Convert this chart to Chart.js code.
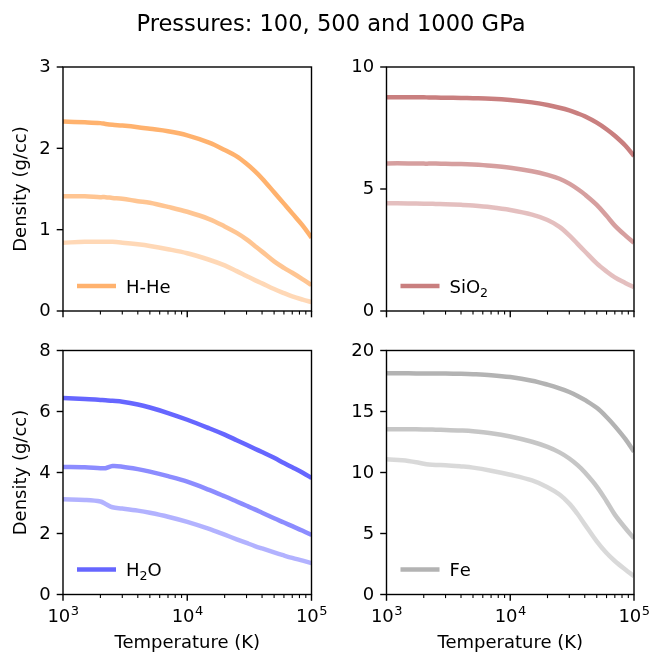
<!DOCTYPE html>
<html>
<head>
<meta charset="utf-8">
<script src="https://cdn.jsdelivr.net/npm/chart.js@4.4.1/dist/chart.umd.min.js"></script>
<style>
    body { margin: 0; background: #fff; }
    #wrap { position: relative; width: 651px; height: 652px; }
    #wrap canvas { position: absolute; left: 0; top: 0; }
</style>
</head>
<body>
<div id="wrap">
    <canvas id="c1" width="651" height="652"></canvas>
    <canvas id="c2" width="651" height="652"></canvas>
    <canvas id="c3" width="651" height="652"></canvas>
    <canvas id="c4" width="651" height="652"></canvas>
</div>
<script>
// Temperatures (K)
const temps = [1000, 1500, 2000, 2200, 2500, 3000, 4000, 5000, 7000, 10000, 15000, 20000, 25000, 30000, 35000, 40000, 50000, 60000, 70000, 85000, 100000];

// Density (g/cc) at 1000, 500, 100 GPa
const hheHigh = [2.33, 2.32, 2.31, 2.30, 2.29, 2.28, 2.26, 2.24, 2.21, 2.16, 2.07, 1.98, 1.90, 1.81, 1.72, 1.63, 1.46, 1.32, 1.20, 1.05, 0.90];
const hheMid  = [1.41, 1.41, 1.40, 1.40, 1.39, 1.38, 1.35, 1.33, 1.28, 1.22, 1.13, 1.04, 0.96, 0.88, 0.80, 0.73, 0.61, 0.53, 0.47, 0.39, 0.32];
const hheLow  = [0.84, 0.85, 0.85, 0.85, 0.85, 0.84, 0.82, 0.80, 0.76, 0.71, 0.63, 0.56, 0.49, 0.43, 0.38, 0.34, 0.27, 0.22, 0.18, 0.14, 0.11];

const sio2High = [8.76, 8.76, 8.76, 8.75, 8.75, 8.74, 8.73, 8.72, 8.70, 8.65, 8.55, 8.44, 8.33, 8.22, 8.10, 7.98, 7.72, 7.45, 7.18, 6.78, 6.35];
const sio2Mid  = [6.05, 6.05, 6.04, 6.04, 6.04, 6.03, 6.02, 6.00, 5.95, 5.87, 5.73, 5.58, 5.42, 5.22, 5.00, 4.78, 4.35, 3.90, 3.50, 3.10, 2.80];
const sio2Low  = [4.42, 4.41, 4.40, 4.40, 4.39, 4.38, 4.35, 4.32, 4.25, 4.14, 3.95, 3.73, 3.45, 3.10, 2.75, 2.45, 1.95, 1.62, 1.38, 1.15, 0.97];

const h2oHigh = [6.44, 6.41, 6.38, 6.37, 6.35, 6.32, 6.23, 6.13, 5.95, 5.73, 5.45, 5.24, 5.06, 4.91, 4.78, 4.67, 4.48, 4.31, 4.17, 3.99, 3.82];
const h2oMid  = [4.18, 4.17, 4.14, 4.14, 4.21, 4.19, 4.11, 4.03, 3.88, 3.70, 3.43, 3.22, 3.05, 2.91, 2.79, 2.68, 2.50, 2.36, 2.24, 2.09, 1.95];
const h2oLow  = [3.12, 3.10, 3.05, 2.97, 2.86, 2.82, 2.75, 2.68, 2.55, 2.38, 2.15, 1.96, 1.81, 1.69, 1.59, 1.51, 1.38, 1.28, 1.20, 1.11, 1.03];

const feHigh = [18.14, 18.13, 18.12, 18.12, 18.12, 18.11, 18.09, 18.06, 17.98, 17.82, 17.52, 17.20, 16.90, 16.60, 16.28, 15.95, 15.30, 14.55, 13.80, 12.75, 11.70];
const feMid  = [13.55, 13.54, 13.53, 13.52, 13.51, 13.49, 13.44, 13.38, 13.22, 12.95, 12.52, 12.10, 11.65, 11.15, 10.60, 10.02, 8.85, 7.65, 6.55, 5.45, 4.60];
const feLow  = [11.08, 10.95, 10.72, 10.66, 10.62, 10.60, 10.50, 10.40, 10.15, 9.82, 9.35, 8.80, 8.20, 7.45, 6.60, 5.75, 4.35, 3.40, 2.75, 2.05, 1.50];

// Tick labels
const xMajor = [1000, 10000, 100000];
const xMajorExp = ['3', '4', '5'];
const hheTicks = [0, 1, 2, 3];
const sio2Ticks = [0, 5, 10];
const h2oTicks = [0, 2, 4, 6, 8];
const feTicks = [0, 5, 10, 15, 20];

const alphas = [0.6, 0.45, 0.3];
const FONT = "'DejaVu Sans', sans-serif";

// text with '₂' drawn as a real subscript
function drawChem(ctx, text, x, y) {
    let cx = x;
    for (const ch of text) {
        if (ch === '₂') {
            ctx.font = '12.6px ' + FONT;
            ctx.fillText('2', cx, y + 4);
            cx += ctx.measureText('2').width;
        } else {
            ctx.font = '18px ' + FONT;
            ctx.fillText(ch, cx, y);
            cx += ctx.measureText(ch).width;
        }
    }
}

// draws matplotlib-like frame, ticks, labels and legend
const axesPlugin = {
    id: 'axesPlugin',
    afterDraw(chart) {
        const o = chart.options.plugins.axesPlugin;
        const ctx = chart.ctx;
        const a = chart.chartArea;
        const xs = chart.scales.x, ys = chart.scales.y;
        ctx.save();
        ctx.strokeStyle = '#000';
        ctx.fillStyle = '#000';

        // y ticks
        ctx.lineWidth = 1.4;
        ctx.font = '18px ' + FONT;
        ctx.textAlign = 'right';
        ctx.textBaseline = 'middle';
        o.yTicks.forEach(v => {
            const py = ys.getPixelForValue(v);
            ctx.beginPath();
            ctx.moveTo(a.left - 6.3, py);
            ctx.lineTo(a.left, py);
            ctx.stroke();
            ctx.fillText(String(v), a.left - 12.4, py + 0.5);
        });

        // x ticks: minor then major
        for (let d = 1000; d < 100000; d *= 10) {
            for (let m = 2; m <= 9; m++) {
                const px = xs.getPixelForValue(d * m);
                ctx.lineWidth = 1.1;
                ctx.beginPath();
                ctx.moveTo(px, a.bottom);
                ctx.lineTo(px, a.bottom + 3.6);
                ctx.stroke();
            }
        }
        ctx.lineWidth = 1.4;
        xMajor.forEach((v, i) => {
            const px = xs.getPixelForValue(v);
            ctx.beginPath();
            ctx.moveTo(px, a.bottom);
            ctx.lineTo(px, a.bottom + 6.3);
            ctx.stroke();
            if (o.showX) {
                ctx.textBaseline = 'alphabetic';
                ctx.font = '18px ' + FONT;
                const w1 = ctx.measureText('10').width;
                ctx.font = '13px ' + FONT;
                const w2 = ctx.measureText(xMajorExp[i]).width;
                const x0 = px - (w1 + w2) / 2;
                ctx.textAlign = 'left';
                ctx.font = '18px ' + FONT;
                ctx.fillText('10', x0, a.bottom + 27.5);
                ctx.font = '13px ' + FONT;
                ctx.fillText(xMajorExp[i], x0 + w1 + 0.5, a.bottom + 20.5);
            }
        });

        // frame
        ctx.lineWidth = 1.4;
        ctx.strokeRect(a.left, a.top, a.right - a.left, a.bottom - a.top);

        // axis labels
        ctx.font = '18px ' + FONT;
        ctx.textAlign = 'center';
        if (o.yLabel) {
            ctx.save();
            ctx.translate(21, (a.top + a.bottom) / 2);
            ctx.rotate(-Math.PI / 2);
            ctx.textBaseline = 'middle';
            ctx.fillText(o.yLabel, 0, 0);
            ctx.restore();
        }
        if (o.showX) {
            ctx.textBaseline = 'alphabetic';
            ctx.fillText('Temperature (K)', (a.left + a.right) / 2, 648);
        }

        // legend
        const ly = a.bottom - 25;
        ctx.strokeStyle = o.legendColor;
        ctx.lineWidth = 4.5;
        ctx.beginPath();
        ctx.moveTo(a.left + 14, ly);
        ctx.lineTo(a.left + 53, ly);
        ctx.stroke();
        ctx.fillStyle = '#000';
        ctx.textAlign = 'left';
        ctx.textBaseline = 'alphabetic';
        drawChem(ctx, o.legendText, a.left + 63, ly + 6.5);

        // figure title
        if (o.title) {
            ctx.font = '22.6px ' + FONT;
            ctx.textAlign = 'center';
            ctx.textBaseline = 'alphabetic';
            ctx.fillText(o.title, 331, 30.5);
        }
        ctx.restore();
    }
};

function rgba(rgb, a) {
    return `rgba(${rgb[0]}, ${rgb[1]}, ${rgb[2]}, ${a})`;
}

function createPanel(id, series, rgb, label, yMax, yTicks, area, opts) {
    const ctx = document.getElementById(id).getContext('2d');
    new Chart(ctx, {
        type: 'line',
        data: {
            datasets: series.map((vals, i) => ({
                label: label,
                data: temps.map((t, j) => ({ x: t, y: vals[j] })),
                borderColor: rgba(rgb, alphas[i]),
                borderWidth: 4.5,
                borderJoinStyle: 'round',
                pointRadius: 0,
                fill: false,
                tension: 0.35
            }))
        },
        options: {
            responsive: false,
            animation: false,
            devicePixelRatio: 1,
            layout: {
                padding: { left: area[0], top: area[1], right: 651 - area[2], bottom: 652 - area[3] }
            },
            scales: {
                x: { type: 'logarithmic', min: 1000, max: 100000, display: false },
                y: { type: 'linear', min: 0, max: yMax, display: false }
            },
            plugins: {
                legend: { display: false },
                tooltip: { enabled: false },
                axesPlugin: {
                    yTicks: yTicks,
                    showX: opts.showX,
                    yLabel: opts.yLabel,
                    legendText: label,
                    legendColor: rgba(rgb, alphas[0]),
                    title: opts.title
                }
            }
        },
        plugins: [axesPlugin]
    });
}

createPanel('c1', [hheHigh, hheMid, hheLow], [255, 127, 14], 'H-He', 3, hheTicks,
    [63, 67, 311.5, 311], { showX: false, yLabel: 'Density (g/cc)', title: 'Pressures: 100, 500 and 1000 GPa' });
createPanel('c2', [sio2High, sio2Mid, sio2Low], [165, 42, 42], 'SiO₂', 10, sio2Ticks,
    [386.5, 67, 634, 311], { showX: false });
createPanel('c3', [h2oHigh, h2oMid, h2oLow], [0, 0, 255], 'H₂O', 8, h2oTicks,
    [63, 350.5, 311.5, 594.5], { showX: true, yLabel: 'Density (g/cc)' });
createPanel('c4', [feHigh, feMid, feLow], [128, 128, 128], 'Fe', 20, feTicks,
    [386.5, 350.5, 634, 594.5], { showX: true });
</script>
</body>
</html>
